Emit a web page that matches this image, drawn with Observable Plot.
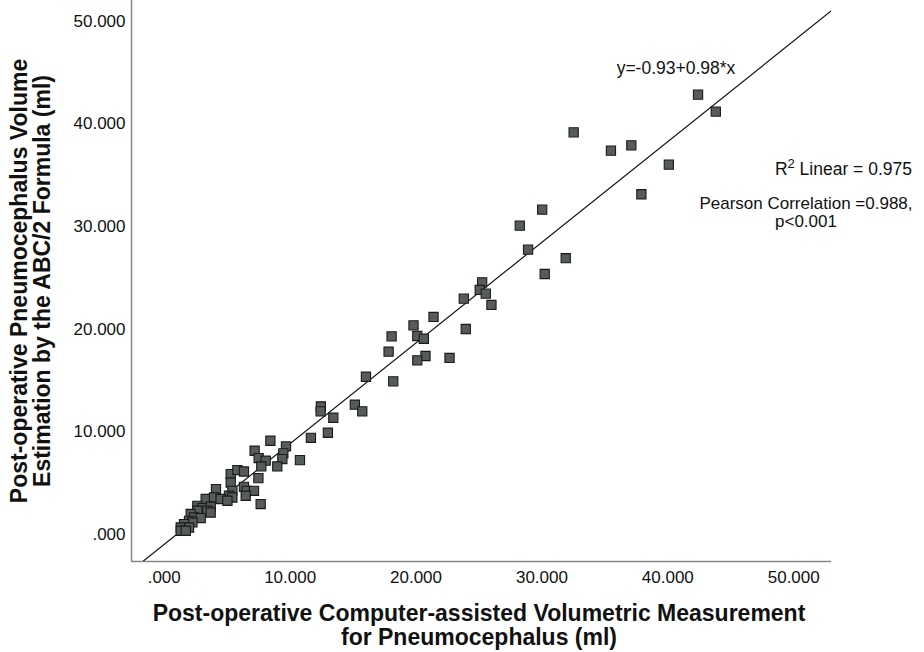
<!DOCTYPE html>
<html><head><meta charset="utf-8">
<script src="https://cdn.jsdelivr.net/npm/d3@7"></script>
<script src="https://cdn.jsdelivr.net/npm/@observablehq/plot@0.6"></script>
<style>body{margin:0;background:#fff} svg{display:block}</style>
</head><body><div id="chart"></div>
<script>
// Computer-assisted volumetric measurement (ml)
const computerVolume = [42.40,43.81,32.52,35.48,37.10,40.08,37.90,30.02,28.24,28.90,31.89,30.22,25.25,25.06,25.54,25.99,23.79,21.39,19.80,23.95,18.06,20.10,20.62,17.82,20.75,20.10,22.66,16.02,18.19,12.44,12.42,13.43,15.14,15.73,11.65,13.00,9.67,9.46,9.38,10.78,8.43,7.18,7.50,8.06,7.71,8.98,5.28,5.81,6.33,5.28,6.33,6.55,7.13,7.48,4.11,5.41,5.14,5.41,6.47,7.66,3.29,3.95,4.48,5.02,2.63,3.03,3.69,2.63,3.43,3.69,2.10,2.37,2.90,1.97,2.24,1.57,1.31,1.97,1.31,1.71];
// ABC/2 estimation (ml)
const abcVolume = [42.84,41.19,39.17,37.39,37.90,36.03,33.14,31.65,30.09,27.75,26.92,25.38,24.57,23.83,23.47,22.37,22.98,21.20,20.38,20.03,19.31,19.35,19.08,17.82,17.40,16.97,17.21,15.38,14.93,12.49,12.01,11.39,12.66,12.01,9.44,9.93,8.60,7.92,7.37,7.27,9.15,8.18,7.47,7.21,6.65,6.65,5.91,6.30,6.16,5.09,4.67,4.28,4.28,5.52,4.45,4.28,3.80,3.63,3.80,2.99,3.48,3.63,3.48,3.31,2.82,2.60,2.73,2.34,2.34,2.17,2.02,1.68,1.63,1.36,1.20,1.04,0.71,0.71,0.39,0.39];
const xTicks = [0,10,20,30,40,50];
const yTicks = [0,10,20,30,40,50];
const xDomain = [-2.6, 53.0];
const yDomain = [-2.6, 52.0];
const fitIntercept = -0.93;
const fitSlope = 0.98;
const xTitle = ["Post-operative Computer-assisted Volumetric Measurement", "for Pneumocephalus (ml)"];
const yTitle = ["Post-operative Pneumocephalus Volume", "Estimation by the ABC/2 Formula (ml)"];
const equationText = "y=-0.93+0.98*x";
const r2Text = ["R", "2", " Linear = 0.975"];
const pearsonText = ["Pearson Correlation =0.988,", "p<0.001"];

const points = computerVolume.map((x, i) => ({x, y: abcVolume[i]}));
const fitLine = xDomain.map(x => ({x, y: fitIntercept + fitSlope * x}));
const fmt = d => d === 0 ? ".000" : d3.format(".3f")(d);
const FONT = "'Liberation Sans', Arial, Helvetica, sans-serif";

const W = 924, H = 652;
const chart = Plot.plot({
  width: W, height: H,
  marginLeft: 131, marginRight: 93, marginTop: 0, marginBottom: 91,
  style: {fontFamily: FONT, fontSize: "17px", color: "#111", background: "#fff"},
  x: {domain: xDomain, ticks: xTicks, tickFormat: fmt, tickSize: 0, tickPadding: 9, label: null},
  y: {domain: yDomain, ticks: yTicks, tickFormat: fmt, tickSize: 0, tickPadding: 6, label: null},
  marks: [
    Plot.ruleX([xDomain[0]], {stroke: "#888", strokeWidth: 1.5}),
    Plot.ruleY([yDomain[0]], {stroke: "#888", strokeWidth: 1.5}),
    Plot.line(fitLine, {x: "x", y: "y", stroke: "#111", strokeWidth: 1.2, clip: true}),
    Plot.dot(points, {x: "x", y: "y", symbol: "square", r: 5.2, fill: "#565c59", stroke: "#1a1a1a", strokeWidth: 1.1})
  ]
});
document.getElementById("chart").appendChild(chart);

const svg = d3.select(chart);
const g = svg.append("g").attr("font-family", FONT).attr("fill", "#111");
// x title
const xt = g.append("text").attr("text-anchor", "middle").attr("font-weight", "bold").attr("font-size", 23);
xTitle.forEach((t, i) => xt.append("tspan").attr("x", 479).attr("y", 621 + i * 24).text(t));
// y title
const yt = g.append("text").attr("text-anchor", "middle").attr("font-weight", "bold").attr("font-size", 23)
  .attr("transform", "translate(0,281) rotate(-90)");
yTitle.forEach((t, i) => yt.append("tspan").attr("x", 0).attr("y", 27 + i * 23).text(t));
// equation
g.append("text").attr("x", 676).attr("y", 74).attr("text-anchor", "middle").attr("font-size", 17.5).text(equationText);
// R2
const r2 = g.append("text").attr("x", 912).attr("y", 175).attr("text-anchor", "end").attr("font-size", 17.5);
r2.append("tspan").text(r2Text[0]);
r2.append("tspan").attr("dy", -7).attr("font-size", 13).text(r2Text[1]);
r2.append("tspan").attr("dy", 7).text(r2Text[2]);
// Pearson
pearsonText.forEach((t, i) => g.append("text").attr("x", 806).attr("y", 209 + i * 18).attr("text-anchor", "middle").attr("font-size", 17).text(t));
</script></body></html>
